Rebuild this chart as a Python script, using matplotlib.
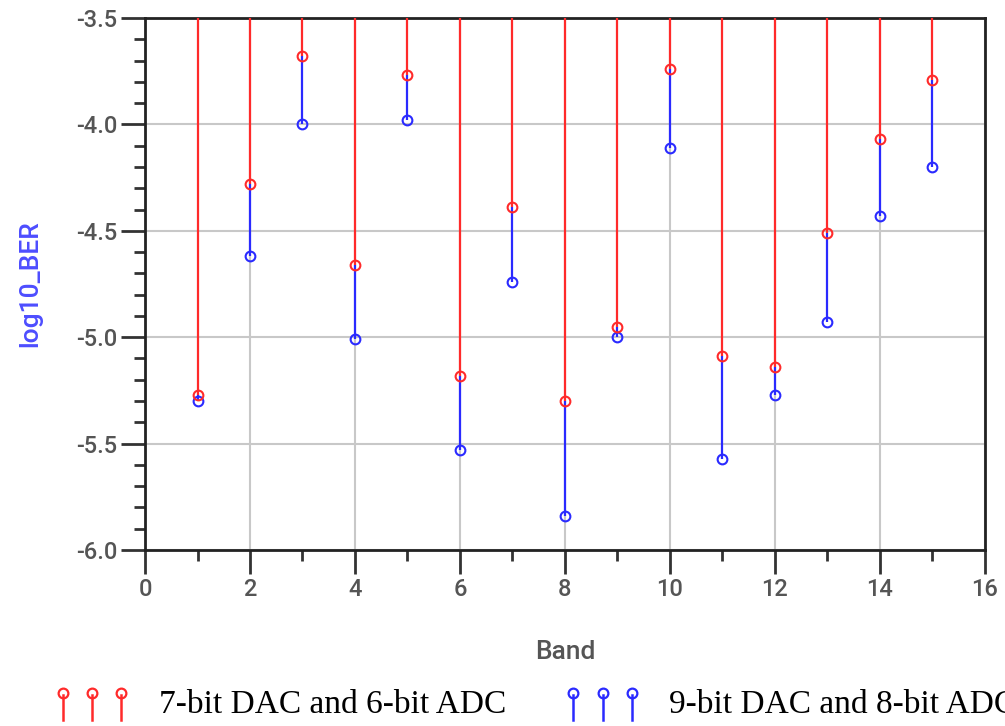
import matplotlib
matplotlib.use("Agg")
import matplotlib.pyplot as plt
from matplotlib.legend_handler import HandlerBase
from matplotlib.lines import Line2D
from matplotlib.ticker import MultipleLocator

# --- data ---
bands = [1, 2, 3, 4, 5, 6, 7, 8, 9, 10, 11, 12, 13, 14, 15]
ber_7dac_6adc = [-5.27, -4.28, -3.68, -4.66, -3.77, -5.18, -4.39, -5.30,
                 -4.95, -3.74, -5.09, -5.14, -4.51, -4.07, -3.79]
ber_9dac_8adc = [-5.30, -4.62, -4.00, -5.01, -3.98, -5.53, -4.74, -5.84,
                 -5.00, -4.11, -5.57, -5.27, -4.93, -4.43, -4.20]
label_red = "7-bit DAC and 6-bit ADC"
label_blue = "9-bit DAC and 8-bit ADC"

RED = "#ff2a2a"
BLUE = "#2a2aff"
Y_TOP = -3.5


class StemTriple(HandlerBase):
    """legend icon: three little stems with a hollow marker on top"""
    def create_artists(self, legend, orig_handle, xdescent, ydescent,
                       width, height, fontsize, trans):
        color = orig_handle.get_color()
        arts = []
        for frac in (0.1, 0.5, 0.9):
            x = xdescent + width * frac
            ln = Line2D([x, x], [-ydescent - 0.3 * height, -ydescent + 0.8 * height],
                        color=color, lw=1.8, transform=trans)
            mk = Line2D([x], [-ydescent + 0.85 * height], marker="o", ms=7,
                        mfc="none", mec=color, mew=1.6, ls="none", transform=trans)
            arts += [ln, mk]
        return arts


fig = plt.figure(figsize=(10.05, 7.26), dpi=100)
ax = fig.add_axes([0.1443, 0.2424, 0.8357, 0.7328])

ax.vlines(bands, ber_7dac_6adc, Y_TOP, color=RED, lw=1.6, zorder=3)
ax.vlines(bands, ber_9dac_8adc, ber_7dac_6adc, color=BLUE, lw=1.6, zorder=3)
ax.plot(bands, ber_9dac_8adc, "o", ms=7, mfc="none", mec=BLUE, mew=1.5, zorder=4)
ax.plot(bands, ber_7dac_6adc, "o", ms=7, mfc="none", mec=RED, mew=1.5, zorder=4)

ax.set_xlim(0, 16)
ax.set_ylim(-6.0, -3.5)
ax.xaxis.set_major_locator(MultipleLocator(2))
ax.xaxis.set_minor_locator(MultipleLocator(1))
ax.yaxis.set_major_locator(MultipleLocator(0.5))
ax.yaxis.set_minor_locator(MultipleLocator(0.1))
ax.yaxis.set_major_formatter(plt.FuncFormatter(lambda v, p: f"{v:.1f}"))

ax.grid(True, which="major", color="#c8c8c8", lw=1.5, zorder=0)
for s in ax.spines.values():
    s.set_linewidth(2)
    s.set_color("#222222")

ax.tick_params(which="major", direction="out", length=17, width=2,
               color="#333333", labelcolor="#555555", labelsize=17, pad=3)
ax.tick_params(which="minor", direction="out", length=8, width=2, color="#333333")
for lbl in ax.get_xticklabels() + ax.get_yticklabels():
    lbl.set_fontfamily("Roboto")
    lbl.set_fontweight("medium")

ax.set_xlabel("Band", fontsize=19, color="#555555", family="Roboto",
              fontweight="medium", labelpad=28)
ax.set_ylabel("log10_BER", fontsize=19, color="#4d4dff", family="Roboto",
              fontweight="medium", labelpad=24)

h_red = Line2D([], [], color=RED)
h_blue = Line2D([], [], color=BLUE)
fig.legend([h_red, h_blue], [label_red, label_blue],
           handler_map={Line2D: StemTriple()},
           loc="center left", bbox_to_anchor=(0.055, 0.029), ncol=2,
           frameon=False, borderpad=0, borderaxespad=0,
           handlelength=2.2, handletextpad=0.9, columnspacing=1.8,
           prop={"family": "Liberation Serif", "size": 24})

fig.savefig("out.png", dpi=100)
